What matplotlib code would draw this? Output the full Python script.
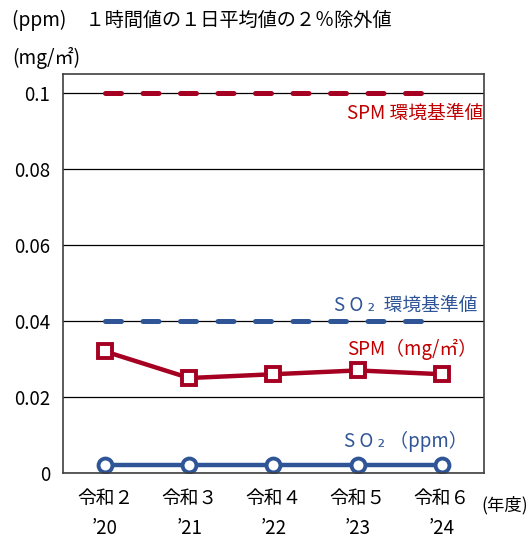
import matplotlib
matplotlib.use("Agg")
import matplotlib.pyplot as plt

plt.rcParams['font.family'] = ['Noto Sans CJK JP', 'DejaVu Sans']

# data
years = ["令和２\n’20", "令和３\n’21", "令和４\n’22", "令和５\n’23", "令和６\n’24"]
spm = [0.032, 0.025, 0.026, 0.027, 0.026]
so2 = [0.002, 0.002, 0.002, 0.002, 0.002]
spm_std = 0.1
so2_std = 0.04

red = '#A50021'
blue = '#2F5597'

fig = plt.figure(figsize=(5.29, 5.41), dpi=100)
ax = fig.add_axes([0.119, 0.1257, 0.796, 0.7373])
x = list(range(len(years)))

# gridlines
ax.set_ylim(0, 0.105)
ax.set_xlim(-0.5, 4.5)
ax.set_yticks([0, 0.02, 0.04, 0.06, 0.08, 0.1])
ax.set_yticklabels(['0', '0.02', '0.04', '0.06', '0.08', '0.1'], fontsize=13.5)
ax.yaxis.grid(True, color='black', linewidth=0.9)
ax.set_axisbelow(True)
ax.tick_params(length=0, pad=9)
for s in ax.spines.values():
    s.set_color('#404040')
    s.set_linewidth(1.2)

# standard lines
l1, = ax.plot(x, [spm_std] * 5, color=red, linewidth=3.6, dash_capstyle='round')
l1.set_dashes((3.2, 4.3))
l2, = ax.plot(x, [so2_std] * 5, color=blue, linewidth=3.6, dash_capstyle='round')
l2.set_dashes((3.2, 4.3))

# measured
ax.plot(x, spm, color=red, linewidth=3.2, marker='s', markersize=10,
        markerfacecolor='white', markeredgewidth=2.8, markeredgecolor=red)
ax.plot(x, so2, color=blue, linewidth=3.2, marker='o', markersize=10,
        markerfacecolor='white', markeredgewidth=2.8, markeredgecolor=blue)

ax.set_xticks(x)
ax.set_xticklabels(years, fontsize=13.5, linespacing=1.55)
ax.tick_params(axis='x', pad=11)

# labels in the plot
ax.text(4.49, 0.0947, 'SPM 環境基準値', color='#C00000', fontsize=13.5, ha='right', va='center')
ax.text(4.42, 0.0442, 'S O ₂  環境基準値', color=blue, fontsize=13.5, ha='right', va='center')
ax.text(4.42, 0.0324, 'SPM（mg/㎡）', color='#C00000', fontsize=13.5, ha='right', va='center')
ax.text(4.3, 0.0082, 'S O ₂ （ppm）', color=blue, fontsize=13.5, ha='right', va='center')

fig.text(0.023, 0.962, '(ppm)　１時間値の１日平均値の２％除外値', fontsize=13.8, va='center')
fig.text(0.023, 0.892, '(mg/㎡)', fontsize=13.8, va='center')
fig.text(0.999, 0.066, '(年度)', fontsize=12.5, ha='right', va='center')

fig.savefig('out.png', dpi=100)
